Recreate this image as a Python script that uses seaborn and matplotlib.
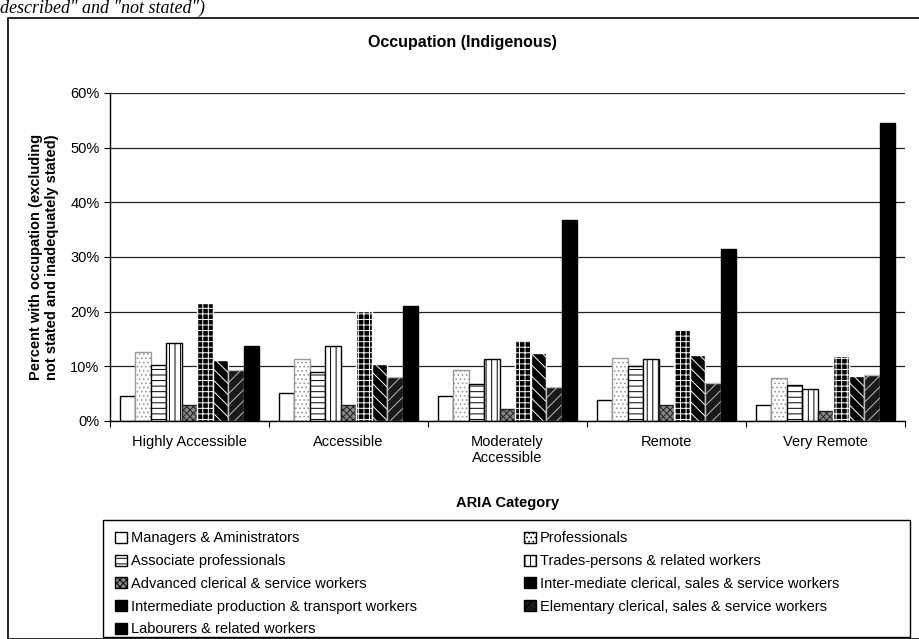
import matplotlib
matplotlib.use("Agg")
import matplotlib.pyplot as plt
import matplotlib.patches as mpatches
import pandas as pd
import seaborn as sns

# ARIA categories and occupation groups (values in %)
regions = ["Highly Accessible", "Accessible", "Moderately\nAccessible", "Remote", "Very Remote"]
occupations = [
    "Managers & Aministrators",
    "Professionals",
    "Associate professionals",
    "Trades-persons & related workers",
    "Advanced clerical & service workers",
    "Inter-mediate clerical, sales & service workers",
    "Intermediate production & transport workers",
    "Elementary clerical, sales & service workers",
    "Labourers & related workers",
]
managers = [4.5, 5.1, 4.6, 3.8, 2.9]
professionals = [12.7, 11.3, 9.4, 11.5, 7.8]
associate = [10.3, 9.0, 6.7, 10.0, 6.5]
trades = [14.3, 13.7, 11.4, 11.3, 5.9]
adv_clerical = [3.0, 3.0, 2.2, 3.0, 1.8]
int_clerical = [21.6, 20.1, 14.9, 16.9, 11.8]
int_production = [11.2, 10.5, 12.4, 12.0, 8.3]
elem_clerical = [9.3, 8.1, 6.3, 7.0, 8.5]
labourers = [13.7, 21.1, 36.7, 31.5, 54.6]

series = [managers, professionals, associate, trades, adv_clerical,
          int_clerical, int_production, elem_clerical, labourers]

rows = []
for occ, vals in zip(occupations, series):
    for reg, v in zip(regions, vals):
        rows.append({"region": reg, "occupation": occ, "value": v})
df = pd.DataFrame(rows)

# fill / hatch / hatch colour for each occupation
styles = [
    ("white", "", "black"),
    ("white", "....", "#999999"),
    ("white", "---", "black"),
    ("white", "|||", "black"),
    ("#888888", "xxxxx", "#222222"),
    ("black", "+++", "white"),
    ("black", "\\\\\\", "white"),
    ("#1a1a1a", "///", "#bbbbbb"),
    ("black", "", "black"),
]

plt.rcParams["font.family"] = ["Liberation Sans", "DejaVu Sans"]
plt.rcParams["hatch.linewidth"] = 0.7

fig = plt.figure(figsize=(9.19, 6.39), dpi=100)
ax = fig.add_axes([110 / 919, 1 - 421 / 639, 795 / 919, (421 - 93) / 639])

sns.barplot(data=df, x="region", y="value", hue="occupation",
            hue_order=occupations, order=regions, width=0.88, gap=0,
            palette=["white"] * len(occupations), edgecolor="black",
            linewidth=1.0, legend=False, ax=ax)

handles = []
for cont, (fc, hatch, hc) in zip(ax.containers, styles):
    for p in cont:
        p.set_facecolor(fc)
        if hatch:
            p.set_hatch(hatch)
            if hasattr(p, "set_hatchcolor"):
                p.set_hatchcolor(hc)
            else:
                p.set_edgecolor(hc)
    h = mpatches.Patch(facecolor=fc, edgecolor="black", hatch=hatch, linewidth=1.0)
    if hatch and hasattr(h, "set_hatchcolor"):
        h.set_hatchcolor(hc)
    handles.append(h)

ax.set_ylim(0, 60)
ax.set_xlim(-0.5, 4.5)
ax.set_yticks(range(0, 61, 10))
ax.set_yticklabels([f"{v}%" for v in range(0, 61, 10)], fontsize=10.5)
ax.set_xticks(range(5))
ax.set_xticklabels(regions, fontsize=10.5)
ax.tick_params(axis="x", length=0, pad=10)
ax.tick_params(axis="y", length=4, direction="out", width=0.8)
ax.set_xticks([i + 0.5 for i in range(-1, 5)], minor=True)
ax.tick_params(axis="x", which="minor", length=4, width=0.8)
ax.yaxis.grid(True, color="#222222", linewidth=0.9)
ax.set_axisbelow(True)
for s in ["top", "right"]:
    ax.spines[s].set_visible(False)
ax.spines["left"].set_linewidth(1.0)
ax.spines["bottom"].set_linewidth(1.0)

ax.set_xlabel("ARIA Category", fontsize=10.5, fontweight="bold", labelpad=22)
ax.set_ylabel("Percent with occupation (excluding\nnot stated and inadequately stated)",
              fontsize=10.5, fontweight="bold", labelpad=8)
fig.text(462 / 919, 1 - 42 / 639, "Occupation (Indigenous)", ha="center", va="center",
         fontsize=11.5, fontweight="bold")

# legend in two columns (column-major order), framed by a separate box
order = [0, 2, 4, 6, 8, 1, 3, 5, 7]
leg = fig.legend([handles[i] for i in order], [occupations[i] for i in order],
                 ncol=2, loc="upper left",
                 bbox_to_anchor=(103 / 919, 1 - 519 / 639),
                 fontsize=10.5, frameon=False,
                 handlelength=0.8, handleheight=0.8, handletextpad=0.3,
                 columnspacing=7.3, labelspacing=0.6, borderpad=0.35)
fig.patches.append(mpatches.Rectangle((103 / 919, 1 - 637 / 639), (910 - 103) / 919,
                                      (637 - 520) / 639, transform=fig.transFigure,
                                      fill=False, edgecolor="black", linewidth=1.0))

# outer chart frame
fig.patches.append(mpatches.Rectangle((8 / 919, 0), 1.2, 1 - 18 / 639,
                                      transform=fig.transFigure, fill=False,
                                      edgecolor="black", linewidth=1.2))

fig.text(0.0, 1.0, 'described" and "not stated")', ha="left", va="top",
         fontsize=13, style="italic", family=["Liberation Serif", "DejaVu Serif"])

fig.savefig("out.png", dpi=100)
